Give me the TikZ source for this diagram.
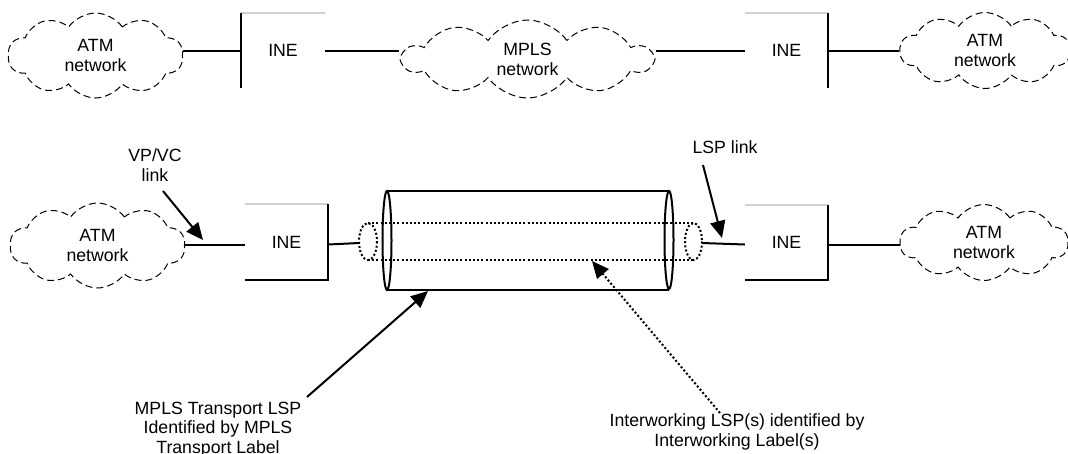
\documentclass[tikz,border=0pt]{standalone}
\usepackage{fontspec}
\setmainfont{Liberation Sans}
\usetikzlibrary{shapes.symbols,arrows.meta}
\begin{document}
\begin{tikzpicture}[x=1pt,y=-1pt,
  every node/.style={font=\fontsize{17.7}{20}\selectfont, inner sep=0pt, align=center},
  atmcloud/.style={cloud, draw, cloud puffs=10, cloud puff arc=110, cloud ignores aspect,
     line width=1pt, dash pattern=on 7pt off 4pt},
  inebox/.style={rectangle, minimum width=83pt, minimum height=75pt},
  ln/.style={line width=2pt},
  topedge/.style={line width=2pt, draw=black!18},
  dots/.style={line width=2pt, dash pattern=on 2pt off 2.2pt},
  bigtip/.style={-{Triangle[length=17pt,width=15pt]}}
]
\useasboundingbox (0,0) rectangle (1068,453);

% ---- top row ----
\node[atmcloud, minimum width=175pt, minimum height=85pt] (atm1) at (95.5,55.5) {ATM\\network};
\node[inebox] (ine1) at (283,50.5) {INE};
\node[atmcloud, minimum width=249pt, minimum height=78pt] (mpls) at (527.5,59) {MPLS\\network};
\node[inebox] (ine2) at (786.5,50.5) {INE};
\node[atmcloud, minimum width=170pt, minimum height=76pt] (atm2) at (985,50.5) {ATM\\network};

\draw[topedge] (ine1.north west) -- (ine1.north east);
\draw[ln] (ine1.north west) -- (ine1.south west);
\draw[topedge] (ine2.north west) -- (ine2.north east);
\draw[ln] (ine2.north east) -- (ine2.south east);

\draw[ln] (atm1.east |- ine1.west) -- (ine1.west);
\draw[ln] (ine1.east) -- (mpls.west |- ine1.east);
\draw[ln] (mpls.east |- ine2.west) -- (ine2.west);
\draw[ln] (ine2.east) -- (atm2.west |- ine2.east);

% ---- bottom row ----
\node[atmcloud, minimum width=175pt, minimum height=85pt] (atm3) at (97.5,245.5) {ATM\\network};
\node[inebox] (ine3) at (286.5,242) {INE};
\node[inebox] (ine4) at (786.5,242.5) {INE};
\node[atmcloud, minimum width=168pt, minimum height=76pt] (atm4) at (984,242.5) {ATM\\network};

\draw[topedge] (ine3.north west) -- (ine3.north east);
\draw[ln] (ine3.north east) -- (ine3.south east) -- (ine3.south west);
\draw[topedge] (ine4.north west) -- (ine4.north east);
\draw[ln] (ine4.north east) -- (ine4.south east) -- (ine4.south west);

% transport LSP (outer cylinder)
\draw[ln] (387,191) -- (669,191);
\draw[ln] (387,290) -- (669,290);
\draw[ln] (387,240.5) ellipse [x radius=4.5, y radius=49.5];
\draw[ln] (669,240) ellipse [x radius=4.5, y radius=49];
\coordinate (cylbot) at (428,291);
\coordinate (tubebot) at (592,261);

% interworking LSP (inner dotted tube)
\draw[dots] (368,223) -- (694,223);
\draw[dots] (368,260) -- (694,260);
\draw[dots] (368,241.5) ellipse [x radius=9, y radius=18.5];
\draw[dots] (693.5,241.5) ellipse [x radius=8.5, y radius=18.5];
\coordinate (tubeL) at (359,243);
\coordinate (tubeR) at (702,243);

\draw[ln] (atm3.east |- 0,244.5) -- (ine3.west |- 0,244.5);
\draw[ln] (ine3.east |- 0,244.5) -- (tubeL);
\draw[ln] (tubeR) -- (ine4.west |- 0,244.5);
\draw[ln] (ine4.east |- 0,244.5) -- (atm4.west |- 0,244.5);

% labels and pointers
\node (vpvc) at (155,165) {VP/VC\\link};
\coordinate (vpvctip) at (203,240);
\draw[ln, bigtip] (163,191) -- (vpvctip);

\node (lsplink) at (725,147) {LSP link};
\coordinate (lsptip) at (722,238);
\draw[ln, bigtip] (703,165) -- (lsptip);

\node[font=\fontsize{17.7}{19.5}\selectfont] (mplstxt) at (218,429.5) {MPLS Transport LSP\\Identified by MPLS\\Transport Label};
\draw[ln, bigtip] (307,397) -- (cylbot);

\node (iwtxt) at (737,432) {Interworking LSP(s) identified by\\Interworking Label(s)};
\draw[dots, bigtip] (720,413) -- (tubebot);
\end{tikzpicture}
\end{document}
